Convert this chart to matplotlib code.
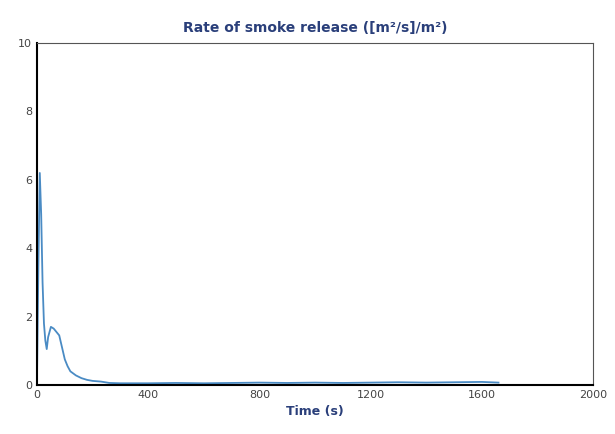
import matplotlib
matplotlib.use("Agg")
import matplotlib.pyplot as plt

time_s = [0, 5, 10, 15, 20, 25, 30, 35, 40, 50, 60, 70, 80, 90, 100, 110, 120, 140, 160, 180, 200, 230, 260, 300, 400, 500, 600, 700, 800, 900, 1000, 1100, 1200, 1300, 1400, 1500, 1600, 1660]
rate = [0.2, 3.5, 6.2, 5.0, 3.0, 1.8, 1.3, 1.05, 1.4, 1.7, 1.65, 1.55, 1.45, 1.1, 0.75, 0.55, 0.4, 0.28, 0.2, 0.15, 0.12, 0.1, 0.06, 0.05, 0.05, 0.06, 0.05, 0.06, 0.07, 0.06, 0.07, 0.06, 0.07, 0.08, 0.07, 0.08, 0.09, 0.07]
xticks = [0, 400, 800, 1200, 1600, 2000]
yticks = [0, 2, 4, 6, 8, 10]

fig = plt.figure(figsize=(6.15, 4.34), dpi=100)
ax = fig.add_axes([37/615, 49/434, 556/615, 342/434])
ax.plot(time_s, rate, color="#4a8bc4", lw=1.3)
ax.set_xlim(0, 2000)
ax.set_ylim(0, 10)
ax.set_xticks(xticks)
ax.set_yticks(yticks)
ax.tick_params(labelsize=8, colors="#444444", length=0)
ax.set_title("Rate of smoke release ([m²/s]/m²)", fontsize=10, fontweight="bold", color="#2a3f7a", pad=8)
ax.set_xlabel("Time (s)", fontsize=9, fontweight="bold", color="#2a3f7a", labelpad=4)
for s in ["left", "bottom"]:
    ax.spines[s].set_linewidth(1.5)
    ax.spines[s].set_color("black")
for s in ["top", "right"]:
    ax.spines[s].set_linewidth(0.8)
    ax.spines[s].set_color("#555555")
fig.savefig("out.png", dpi=100)
